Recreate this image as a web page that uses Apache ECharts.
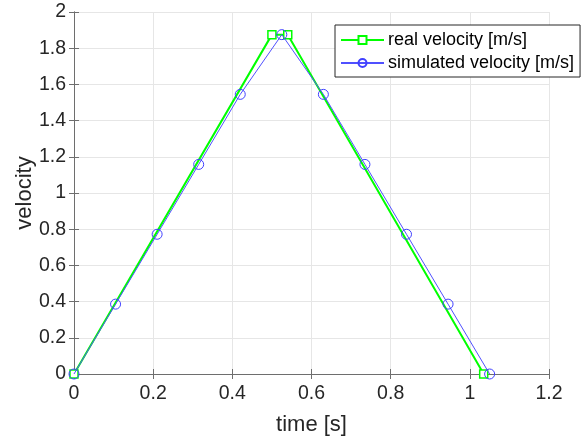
<!DOCTYPE html>
<html>
<head>
<meta charset="utf-8">
<script src="https://cdn.jsdelivr.net/npm/echarts@6/dist/echarts.min.js"></script>
<style>html,body{margin:0;padding:0;background:#fff;}#c{width:581px;height:441px;}</style>
</head>
<body>
<div id="c"></div>
<script>
var realTime = [0, 0.5, 0.54, 1.035];
var realVel = [0, 1.875, 1.875, 0];
var simTime = [0, 0.105, 0.21, 0.315, 0.42, 0.525, 0.63, 0.735, 0.84, 0.945, 1.05];
var simVel = [0, 0.386, 0.772, 1.158, 1.545, 1.875, 1.545, 1.158, 0.772, 0.386, 0];
var xTicks = [0, 0.2, 0.4, 0.6, 0.8, 1, 1.2];
var yTicks = [0, 0.2, 0.4, 0.6, 0.8, 1, 1.2, 1.4, 1.6, 1.8, 2];

function pairs(xs, ys) { return xs.map(function (x, i) { return [x, ys[i]]; }); }

var FONT = 'Liberation Sans, Arial, sans-serif';
var TXT = '#262626';
var AX = '#6e6e6e';

var chart = echarts.init(document.getElementById('c'), null, {renderer: 'canvas'});
var baseX = {
  type: 'value', min: 0, max: 1.2, interval: 0.2,
  axisLine: {show: true, lineStyle: {color: AX, width: 1}},
  axisTick: {show: true, inside: true, length: 5, lineStyle: {color: AX}},
  splitLine: {show: false}
};
var baseY = {
  type: 'value', min: 0, max: 2, interval: 0.2,
  axisLine: {show: true, lineStyle: {color: AX, width: 1}},
  axisTick: {show: true, inside: true, length: 5, lineStyle: {color: AX}},
  splitLine: {show: false}
};
chart.setOption({
  animation: false,
  grid: {left: 74, right: 32, top: 12, bottom: 67, show: false, containLabel: false, outerBoundsMode: 'none'},
  legend: {
    show: true,
    left: 335, top: 25,
    orient: 'vertical',
    backgroundColor: '#ffffff',
    borderColor: '#262626', borderWidth: 1,
    padding: [6, 6, 5, 5],
    itemWidth: 43, itemHeight: 10, itemGap: 5,
    textStyle: {fontFamily: FONT, fontSize: 18, lineHeight: 18, color: '#000', padding: [0, 0, 0, -1]},
    data: ['real velocity [m/s]', 'simulated velocity [m/s]']
  },
  xAxis: [
    Object.assign({}, baseX, {
      position: 'bottom',
      name: 'time [s]', nameLocation: 'middle', nameGap: 40,
      nameTextStyle: {fontFamily: FONT, fontSize: 22, color: TXT},
      axisLabel: {fontFamily: FONT, fontSize: 19.5, color: TXT, margin: 10,
        formatter: function (v) { return xTicks.indexOf(+v.toFixed(2)) >= 0 ? String(+v.toFixed(2)) : ''; }},
      splitLine: {show: true, lineStyle: {color: '#e6e6e6', width: 1}}
    }),
    Object.assign({}, baseX, {position: 'top', axisLabel: {show: false}})
  ],
  yAxis: [
    Object.assign({}, baseY, {
      position: 'left',
      name: 'velocity', nameLocation: 'middle', nameGap: 38, nameMoveOverlap: false,
      nameTextStyle: {fontFamily: FONT, fontSize: 22, color: TXT},
      axisLabel: {fontFamily: FONT, fontSize: 19.5, color: TXT, margin: 8,
        formatter: function (v) { return yTicks.indexOf(+v.toFixed(2)) >= 0 ? String(+v.toFixed(2)) : ''; }},
      splitLine: {show: true, lineStyle: {color: '#e6e6e6', width: 1}}
    }),
    Object.assign({}, baseY, {position: 'right', axisLabel: {show: false}})
  ],
  series: [
    {
      name: 'real velocity [m/s]', type: 'line',
      data: pairs(realTime, realVel),
      symbol: 'rect', symbolSize: 8, showAllSymbol: true,
      lineStyle: {color: '#00ff00', width: 2},
      itemStyle: {color: '#ffffff', borderColor: '#00ff00', borderWidth: 1.5},
      emphasis: {disabled: true}, z: 2
    },
    {
      name: 'simulated velocity [m/s]', type: 'line',
      data: pairs(simTime, simVel),
      symbol: 'circle', symbolSize: 10, showAllSymbol: true,
      lineStyle: {color: '#5050ff', width: 1},
      itemStyle: {color: 'rgba(255,255,255,0)', borderColor: '#4040ff', borderWidth: 1},
      emphasis: {disabled: true}, z: 3
    }
  ]
});
</script>
</body>
</html>
